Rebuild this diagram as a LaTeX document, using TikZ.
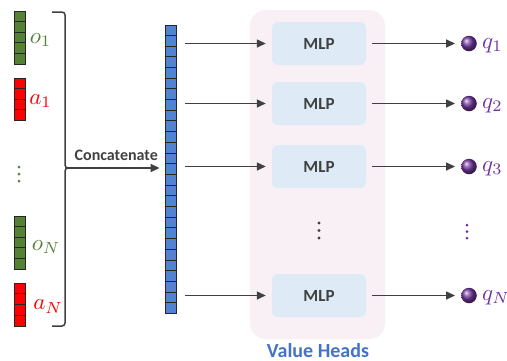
\documentclass[tikz,border=0pt]{standalone}
\usepackage{fontspec}
\usepackage{graphicx}
\newfontfamily\carl{Carlito}
\usetikzlibrary{arrows.meta,calc}
\definecolor{cgreen}{HTML}{548235}
\definecolor{cred}{HTML}{FF0000}
\definecolor{cblue}{HTML}{4472C4}
\definecolor{cellblue}{HTML}{5282D2}
\definecolor{cpurple}{HTML}{7030A0}
\definecolor{cgray}{HTML}{404040}
\definecolor{mlpfill}{HTML}{DEEBF7}
\definecolor{vhfill}{HTML}{F8F0F5}
\newcommand\vcells[2]{%
  \pgfmathtruncatemacro\nm{#2-1}%
  \foreach \k in {1,...,\nm}{%
    \draw[cellsep] ($(#1.north west)!\k/#2!(#1.south west)$) -- ($(#1.north east)!\k/#2!(#1.south east)$);}}
\newcommand\mylabmath[1]{\scalebox{2.3}{$#1$}}
\tikzset{
  block/.style={draw=black!85, line width=0.8pt, minimum width=11pt, inner sep=0pt},
  cellsep/.style={draw=black!85, line width=0.8pt},
  lab/.style={anchor=west, inner sep=0pt},
  arr/.style={draw=cgray, line width=1.5pt, -{Triangle[length=9pt,width=8pt]}},
  brk/.style={draw=cgray, line width=1.5pt},
  mlp/.style={fill=mlpfill, rounded corners=6pt, minimum width=94pt, minimum height=43pt,
    font=\carl\bfseries\fontsize{17}{18}\selectfont, text=cgray},
  ball/.style={circle, minimum size=15.5pt, inner sep=0pt, shading=ball, ball color=cpurple!95!white},
  dot/.style={circle, inner sep=0pt, minimum size=3pt}
}
\begin{document}
\begin{tikzpicture}[x=1pt,y=-1pt]
\useasboundingbox (0,0) rectangle (507,360);
% value heads background
\node[fill=vhfill, rounded corners=16pt, minimum width=135pt, minimum height=329pt] (vh) at (317.5,174.5) {};
\node[anchor=base, inner sep=0pt, text=cblue, font=\carl\bfseries\fontsize{20}{22}\selectfont] (vhl) at (318,357) {Value Heads};
% input blocks
\node[block, fill=cgreen, minimum height=53pt] (o1) at (20.2,37.5) {};
\vcells{o1}{5}
\node[block, fill=cred, minimum height=42pt] (a1) at (20.2,99) {};
\vcells{a1}{4}
\node[block, fill=cgreen, minimum height=53pt] (oN) at (20.2,242.5) {};
\vcells{oN}{5}
\node[block, fill=cred, minimum height=43pt] (aN) at (20.2,304.5) {};
\vcells{aN}{4}
\node[lab, text=cgreen] (lo1) at ($(o1.east)+(3.5,2.7)$) {\mylabmath{o_1}};
\node[lab, text=cred] (la1) at ($(a1.east)+(3,2.2)$) {\mylabmath{a_1}};
\node[lab, text=cgreen] (loN) at ($(oN.east)+(5.5,4.7)$) {\mylabmath{o_N}};
\node[lab, text=cred] (laN) at ($(aN.east)+(7,2.2)$) {\mylabmath{a_N}};
\foreach \yy in {167,174,181} \node[dot, fill=cgreen] at (19,\yy) {};
% bracket
\coordinate (bm) at (68,168);
\draw[brk, rounded corners=3pt] (52,12) -- (65,12) -- (65,168) -- (bm);
\draw[brk, rounded corners=3pt] (bm) -- (65,168) -- (65,326) -- (52,326);
% concatenated vector
\node[block, fill=cellblue, minimum height=288pt] (cat) at (170.5,169) {};
\vcells{cat}{27}
\draw[arr, shorten >=5pt] (bm) -- node[above=3pt, text=cgray, font=\carl\bfseries\fontsize{16}{18}\selectfont] {Concatenate} (bm -| cat.west);
% MLPs
\node[mlp] (m1) at (319,43.5) {MLP};
\node[mlp] (m2) at (319,103.5) {MLP};
\node[mlp] (m3) at (319,166.5) {MLP};
\node[mlp] (m4) at (319,295.5) {MLP};
\foreach \yy in {223,230.5,238} \node[dot, fill=cgray, minimum size=3.4pt] at (319,\yy) {};
% outputs
\node[ball] (q1) at (469,43.5) {};
\node[ball] (q2) at (469,103.5) {};
\node[ball] (q3) at (469,166.5) {};
\node[ball] (q4) at (469,295.5) {};
\foreach \yy in {225,231.5,238} \node[dot, fill=cpurple] at (467,\yy) {};
\node[lab, text=cpurple] at ($(q1.east)+(5,2.3)$) {\mylabmath{q_1}};
\node[lab, text=cpurple] at ($(q2.east)+(5,2.3)$) {\mylabmath{q_2}};
\node[lab, text=cpurple] at ($(q3.east)+(5,2.3)$) {\mylabmath{q_3}};
\node[lab, text=cpurple] at ($(q4.east)+(5,2.3)$) {\mylabmath{q_N}};
% arrows
\foreach \m in {m1,m2,m3,m4}
  \draw[arr, shorten <=9pt, shorten >=6pt] (cat.east |- \m.west) -- (\m.west);
\draw[arr, shorten <=6pt, shorten >=6pt] (m1.east) -- (q1.west);
\draw[arr, shorten <=6pt, shorten >=6pt] (m2.east) -- (q2.west);
\draw[arr, shorten <=6pt, shorten >=6pt] (m3.east) -- (q3.west);
\draw[arr, shorten <=6pt, shorten >=6pt] (m4.east) -- (q4.west);
\end{tikzpicture}
\end{document}
